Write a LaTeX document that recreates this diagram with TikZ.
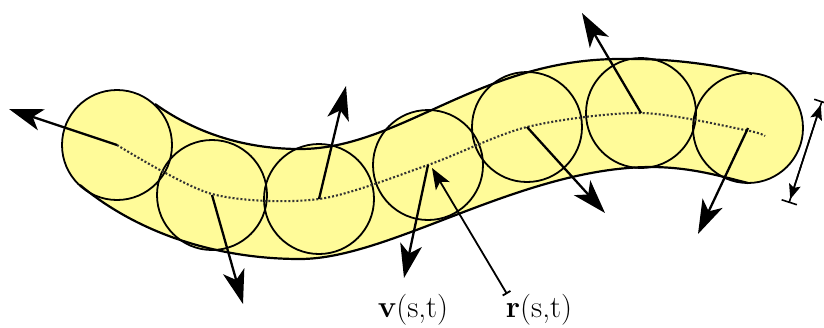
\documentclass[tikz,border=0pt]{standalone}
\usetikzlibrary{arrows.meta}
\definecolor{tubefill}{RGB}{255,251,153}
\begin{document}
\begin{tikzpicture}[x=1pt,y=-1pt,
  circ/.style={circle,draw=black,line width=1.8pt,minimum size=110pt,inner sep=0pt},
  vel/.style={line width=2.3pt,-{Stealth[length=34pt,width=22pt,inset=9pt]}},
  tubeedge/.style={line width=2.2pt},
  centreline/.style={dash pattern=on 2pt off 2pt,line width=2.1pt,black!80},
  lab/.style={font=\fontsize{31}{34}\selectfont,anchor=base,inner sep=0pt}]
\useasboundingbox (0,0) rectangle (824,327);

% circle centres
\coordinate (c1) at (117,145);
\coordinate (c2) at (212,195);
\coordinate (c3) at (319,199);
\coordinate (c4) at (428,165);
\coordinate (c5) at (527,127);
\coordinate (c6) at (641,113);
\coordinate (c7) at (748,128);

% tube body
\def\toppath{(155,104) .. controls (200,136) and (250,149) .. (300,149) .. controls (400,149) and (480,59) .. (620,59) .. controls (665,58) and (715,64) .. (752,74)}
\def\botpath{(748,183) .. controls (720,176) and (690,167) .. (650,167) .. controls (520,168) and (390,259) .. (300,259) .. controls (220,259) and (140,235) .. (80,185)}
\fill[tubefill] \toppath -- \botpath -- cycle;
\foreach \c in {c1,c2,c3,c4,c5,c6,c7} \fill[tubefill] (\c) circle (55);

\draw[tubeedge] \toppath;
\draw[tubeedge] \botpath;

% circle outlines
\node[circ] (C1) at (c1) {};
\node[circ] (C2) at (c2) {};
\node[circ] (C3) at (c3) {};
\node[circ] (C4) at (c4) {};
\node[circ] (C5) at (c5) {};
\node[circ] (C6) at (c6) {};
\node[circ] (C7) at (c7) {};

% centre line
\coordinate (cend) at (765,136);
\draw[centreline] plot[smooth] coordinates {(117,145) (212,194) (319,199) (428,165) (527,127) (641,113) (745,130) (765,136)};

% velocity arrows
\coordinate (t1) at (9,109);
\coordinate (t2) at (243,304);
\coordinate (t3) at (346,86);
\coordinate (t4) at (404,278);
\coordinate (t5) at (605,213);
\coordinate (t6) at (582,13);
\coordinate (t7) at (698,234);
\draw[vel] (C1.center) -- (t1);
\draw[vel] (C2.center) -- (t2);
\draw[vel] (C3.center) -- (t3);
\draw[vel] (C4.center) -- (t4);
\draw[vel] (C5.center) -- (t5);
\draw[vel] (C6.center) -- (t6);
\draw[vel] (C7.center) -- (t7);

% position vector
\coordinate (rb) at (507,294);
\coordinate (rt) at (432,168);
\draw[line width=1.8pt,{Bar[width=9pt]}-{Stealth[length=21pt,width=16pt,inset=5pt]}] (rb) -- (rt);

% diameter marker
\coordinate (d1) at (789,203);
\coordinate (d2) at (822,101);
\draw[line width=1.6pt,{Bar[width=16pt]}-{Bar[width=16pt]}] (d1) -- (d2);
\draw[line width=1.6pt,{Stealth[length=15pt,width=12pt,inset=3pt]}-{Stealth[length=15pt,width=12pt,inset=3pt]},shorten <=4pt,shorten >=4pt] (d1) -- (d2);

% labels
\node[lab] (vl) at (413,317) {\textbf{v}(s,t)};
\node[lab] (rl) at (539,317) {\textbf{r}(s,t)};
\end{tikzpicture}
\end{document}
